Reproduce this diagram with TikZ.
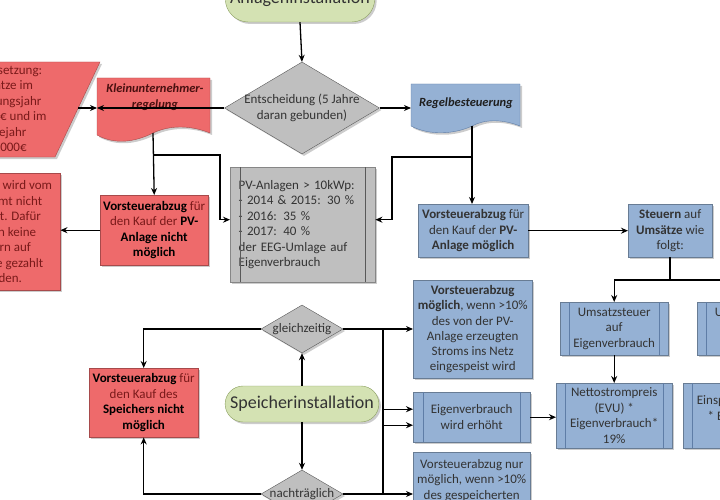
\documentclass[tikz,border=0pt]{standalone}
\usepackage{fontspec}
\setmainfont{Carlito}
\usetikzlibrary{shapes.geometric,shapes.misc,arrows.meta,shadows}
\definecolor{rd}{HTML}{EE6A6B}
\definecolor{rdt}{HTML}{7A1A1A}
\definecolor{gn}{HTML}{D4E2B3}
\definecolor{gnd}{HTML}{8A9E5E}
\definecolor{gy}{HTML}{BFBFBF}
\definecolor{bl}{HTML}{95B1D4}
\definecolor{bld}{HTML}{5F7DA6}
\definecolor{tx}{HTML}{333333}
\begin{document}
\begin{tikzpicture}[x=1pt,y=-1pt,
  sh/.style={drop shadow={shadow xshift=2pt,shadow yshift=-2pt,opacity=.4}},
  fnt/.style={font=\fontsize{13}{15.5}\selectfont},
  box/.style={draw=#1!70!black,sh,inner sep=2pt,align=center,fnt,anchor=north west},
  red/.style={box=rd,fill=rd,text=rdt},
  blu/.style={box=bl,fill=bl,text=tx},
  gry/.style={box=gy,fill=gy,text=tx},
  term/.style={rounded rectangle,draw=gnd,fill=gn,sh,text=tx,font=\fontsize{18}{20}\selectfont},
  dia/.style={diamond,draw=gray!70!black,fill=gy,sh,inner sep=0pt},
  dtx/.style={text=tx,fnt,align=center},
  ar/.style={-{Stealth[length=7pt,width=6pt]},line width=1.3pt,black},
  ln/.style={line width=1.3pt,black}]
\useasboundingbox (0,0) rectangle (720,500);
\clip (0,0) rectangle (720,500);
% terminals
\node[term,minimum width=144pt,minimum height=46pt] (anl) at (300,-1) {Anlageninstallation};
\node[term,minimum width=148pt,minimum height=36pt] (spe) at (302,404) {Speicherinstallation};
% diamonds
\node[dia,minimum width=155pt,minimum height=92pt] (ent) at (302,108) {};
\node[dtx] (entt) at (ent.center) {Entscheidung (5 Jahre\\daran gebunden)};
\node[dia,minimum width=82pt,minimum height=48pt] (gle) at (302,329) {};
\node[dtx] (glet) at (gle.center) {gleichzeitig};
\node[dia,minimum width=82pt,minimum height=48pt] (nac) at (302,494) {};
\node[dtx] (nact) at (nac.center) {nachträglich};
% document shapes
\path[fill=rd,draw=rd!70!black,sh] (97,78) -- (210,78) -- (210,133) .. controls (190,125) and (170,125) .. (153,133) .. controls (135,142) and (115,145) .. (97,135) -- cycle;
\node[font=\fontsize{12.5}{16}\selectfont\bfseries\itshape,align=center,text=rdt!60!black] (klein) at (155,97) {Kleinunternehmer-\\regelung};
\path[fill=bl,draw=bld,sh] (411,84) -- (520,84) -- (520,126) .. controls (502,119) and (485,119) .. (472,126) .. controls (455,134) and (430,136) .. (411,126) -- cycle;
\node[font=\fontsize{12.5}{16}\selectfont\bfseries\itshape,text=tx!60!black] (regel) at (466,103) {Regelbesteuerung};
\coordinate (kl) at (97,108); \coordinate (kb) at (153,133);
\coordinate (rl) at (411,108); \coordinate (rb) at (472,126);
% left parallelogram
\path[fill=rd,draw=rd!70!black,sh] (-60,62) -- (100,62) -- (55,157) -- (-60,157) -- cycle;
\node[fnt,text=rdt,align=center] (vor) at (2,109) {Voraussetzung:\\Umsätze im\\Gründungsjahr\\<17.500€ und im\\Folgejahr\\<50.000€};
\coordinate (vr) at (78,108);
% red boxes
\node[red,minimum width=120pt,minimum height=117pt] (ust) at (-60,173) {Vorsteuer wird vom\\Finanzamt nicht\\erstattet. Dafür\\müssen keine\\Steuern auf\\Umsätze gezahlt\\werden.};
\node[red,minimum width=108pt,minimum height=70pt] (vkn) at (100,195) {\textcolor{black}{\textbf{Vorsteuerabzug}} für\\den Kauf der \textcolor{black}{\textbf{PV-}}\\\textcolor{black}{\textbf{Anlage nicht}}\\\textcolor{black}{\textbf{möglich}}};
\node[red,minimum width=109pt,minimum height=69pt] (vsn) at (89,368) {\textcolor{black}{\textbf{Vorsteuerabzug}} für\\den Kauf des\\\textcolor{black}{\textbf{Speichers nicht}}\\\textcolor{black}{\textbf{möglich}}};
% gray PV box
\node[gry,minimum width=145pt,minimum height=115pt,text width=128pt,align=left] (pv) at (230,167) {PV-Anlagen > 10kWp:\\- 2014 \& 2015: 30 \%\\- 2016: 35 \%\\- 2017: 40 \%\\der EEG-Umlage auf\\Eigenverbrauch};
\draw[gray!70!black] ([xshift=10pt]pv.north west) -- ([xshift=10pt]pv.south west) ([xshift=-10pt]pv.north east) -- ([xshift=-10pt]pv.south east);
% blue boxes
\node[blu,minimum width=110pt,minimum height=53pt] (vm) at (418,204) {\textbf{Vorsteuerabzug} für\\den Kauf der \textbf{PV-}\\\textbf{Anlage möglich}};
\node[blu,minimum width=84pt,minimum height=53pt] (st) at (628,204) {\textbf{Steuern} auf\\\textbf{Umsätze} wie\\folgt:};
\node[blu,minimum width=108pt,minimum height=53pt] (ue) at (560,302) {Umsatzsteuer\\auf\\Eigenverbrauch};
\node[blu,minimum width=116pt,minimum height=65pt] (ne) at (556,383) {Nettostrompreis\\(EVU) *\\Eigenverbrauch*\\19\%};
\node[blu,minimum width=108pt,minimum height=53pt] (ua) at (697,302) {Umsatzsteuer\\auf\\Einspeisung};
\node[blu,minimum width=130pt,minimum height=65pt] (ea) at (683,383) {Einspeisevergütung\\* Einspeisung *\\19\%};
\foreach \n in {ue,ne,ua,ea}{\draw[bld] ([xshift=9pt]\n.north west) -- ([xshift=9pt]\n.south west) ([xshift=-9pt]\n.north east) -- ([xshift=-9pt]\n.south east);}
\node[blu,minimum width=119pt,minimum height=98pt,font=\fontsize{13}{15.2}\selectfont] (vw) at (413,280) {\textbf{Vorsteuerabzug}\\\textbf{möglich}, wenn >10\%\\des von der PV-\\Anlage erzeugten\\Stroms ins Netz\\eingespeist wird};
\node[blu,minimum width=117pt,minimum height=50pt] (eg) at (413,392) {Eigenverbrauch\\wird erhöht};
\draw[bld] ([xshift=10pt]eg.north west) -- ([xshift=10pt]eg.south west) ([xshift=-10pt]eg.north east) -- ([xshift=-10pt]eg.south east);
\node[blu,minimum width=117pt,minimum height=70pt] (vn) at (413,452) {Vorsteuerabzug nur\\möglich, wenn >10\%\\des gespeicherten\\Stroms ins Netz};
% connectors
\draw[ar] (anl.south) -- (ent.north);
\draw[ar] (ent.west) -- (kl);
\draw[ar] (ent.east) -- (rl);
\draw[ar] (vr) -- (kl);
\draw[ar] (kb) -- (vkn.north);
\draw[ar] (153,155) -- (220,155) |- ([yshift=5pt]pv.west);
\draw[ar] (vkn.west) -- (ust.east |- vkn.west);
\draw[ar] (rb) -- (vm.north -| rb);
\draw[ar] (472,157) -- (392,157) |- ([yshift=5pt]pv.east);
\draw[ar] (vm.east) -- (st.west);
\draw[ar] (670,257) -- (670,280) -| (ue.north);
\draw[ln] (670,280) -- (720,280);
\draw[ar] (ue.south) -- (ne.north);
\draw[ar] (eg.east) -- (ne.west |- eg.east);
\draw[ar] (spe.north) -- (gle.south);
\draw[ar] (spe.south) -- (nac.north);
\draw[ar] (gle.west) -| (vsn.north);
\draw[ar] (nac.west) -| (vsn.south);
\draw[ar] (gle.east) -- (vw.west |- gle.east);
\draw[ar] (383,329) |- ([yshift=-8pt]eg.west);
\draw[ar] (nac.east) -- (vn.west |- nac.east);
\draw[ar] (383,494) |- ([yshift=8pt]eg.west);
\end{tikzpicture}
\end{document}
